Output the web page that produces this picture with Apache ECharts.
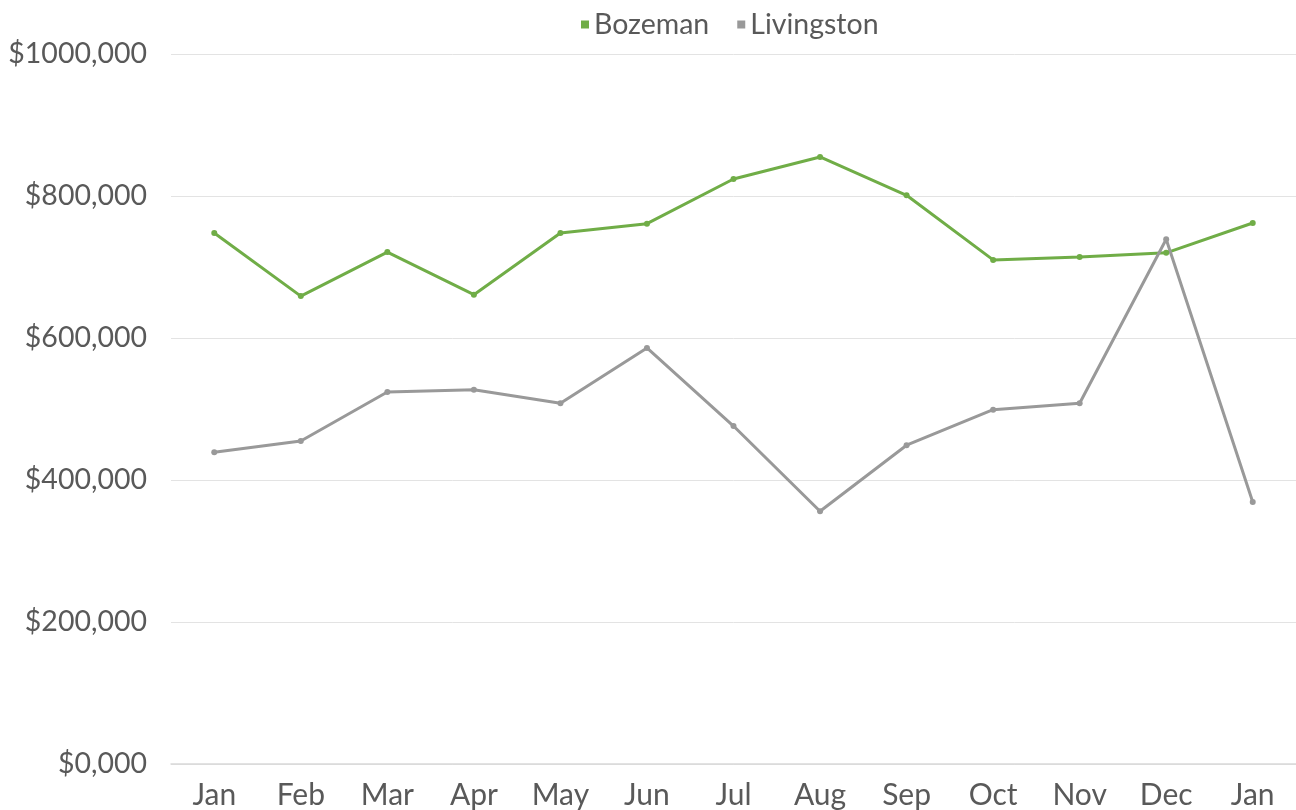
<!DOCTYPE html>
<html>
<head>
<meta charset="utf-8">
<script src="https://cdn.jsdelivr.net/npm/echarts@6/dist/echarts.min.js"></script>
<style>
  html, body { margin: 0; padding: 0; background: #fff; }
  #chart { width: 1296px; height: 810px; }
</style>
</head>
<body>
<div id="chart"></div>
<script>
const months = ['Jan', 'Feb', 'Mar', 'Apr', 'May', 'Jun', 'Jul', 'Aug', 'Sep', 'Oct', 'Nov', 'Dec', 'Jan']
const bozeman = [748000, 659000, 721000, 661000, 748000, 761000, 824000, 855000, 801000, 710000, 714000, 720000, 762000]
const livingston = [439000, 455000, 524000, 527000, 508000, 586000, 476000, 356000, 449000, 499000, 508000, 739000, 369000]

const chart = echarts.init(document.getElementById('chart'))
const labelColor = '#595959'
const font = 'Lato, "Noto Sans", sans-serif'

chart.setOption({
  animation: false,
  legend: {
    top: 5,
    left: 576,
    icon: 'rect',
    itemWidth: 8,
    itemHeight: 8,
    itemGap: 28,
    textStyle: { color: labelColor, fontSize: 28.5, fontFamily: font },
    data: ['Bozeman', 'Livingston']
  },
  grid: {
    left: 171,
    right: -3,
    top: 54,
    bottom: 46
  },
  xAxis: {
    type: 'category',
    data: months,
    boundaryGap: true,
    axisTick: { show: false },
    axisLine: { lineStyle: { color: '#d9d9d9', width: 1.5 } },
    axisLabel: { color: labelColor, fontSize: 30, fontFamily: font, margin: 16 }
  },
  yAxis: {
    type: 'value',
    min: 0,
    max: 1000000,
    interval: 200000,
    axisLine: { show: false },
    axisTick: { show: false },
    splitLine: { lineStyle: { color: '#e3e3e3', width: 1 } },
    axisLabel: {
      color: labelColor,
      fontSize: 28.5,
      fontFamily: font,
      margin: 24,
      formatter: function (v) {
        return '$' + (v / 1000) + ',000'
      }
    }
  },
  series: [
    {
      name: 'Bozeman',
      type: 'line',
      data: bozeman,
      symbol: 'circle',
      symbolSize: 6,
      itemStyle: { color: '#70ad47' },
      lineStyle: { color: '#70ad47', width: 3 }
    },
    {
      name: 'Livingston',
      type: 'line',
      data: livingston,
      symbol: 'circle',
      symbolSize: 6,
      itemStyle: { color: '#999999' },
      lineStyle: { color: '#999999', width: 3 }
    }
  ]
})
</script>
</body>
</html>
